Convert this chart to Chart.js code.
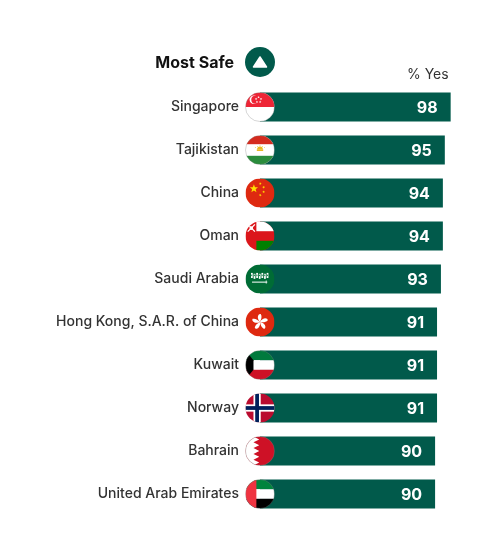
<!DOCTYPE html>
<html><head><meta charset="utf-8">
<script src="https://cdn.jsdelivr.net/npm/chart.js@4.4.1/dist/chart.umd.min.js"></script>
<style>html,body{margin:0;padding:0;background:#fff}#wrap{width:498px;height:536px;position:relative}</style>
</head><body><div id="wrap"><canvas id="c"></canvas></div>
<script>
const countries = ['Singapore','Tajikistan','China','Oman','Saudi Arabia','Hong Kong, S.A.R. of China','Kuwait','Norway','Bahrain','United Arab Emirates'];
const values = [98,95,94,94,93,91,91,91,90,90];
const flagCodes = ['sg','tj','cn','om','sa','hk','kw','no','bh','ae'];
const titleText = 'Most Safe';
const unitText = '% Yes';

const GREEN = '#015a4b';
const FONT = 'Inter, "Noto Sans", sans-serif';

function star(ctx,x,y,R,rot,color){
  ctx.beginPath();
  for(let k=0;k<10;k++){const a=rot-Math.PI/2+k*Math.PI/5;const rr=k%2?R*0.42:R;ctx.lineTo(x+rr*Math.cos(a),y+rr*Math.sin(a));}
  ctx.closePath();ctx.fillStyle=color;ctx.fill();
}
function rect(ctx,x,y,w,h,c){ctx.fillStyle=c;ctx.fillRect(x,y,w,h);}

const flags = {
  sg(ctx,cx,cy,r){
    rect(ctx,cx-r,cy-r,2*r,2*r,'#fff');
    rect(ctx,cx-r,cy-r,2*r,r,'#ee2536');
    ctx.beginPath();ctx.arc(cx-0.42*r,cy-0.5*r,0.3*r,0,Math.PI*2);ctx.fillStyle='#fff';ctx.fill();
    ctx.beginPath();ctx.arc(cx-0.32*r,cy-0.5*r,0.28*r,0,Math.PI*2);ctx.fillStyle='#ee2536';ctx.fill();
    const pts=[[0,-0.72],[0.17,-0.6],[0.11,-0.4],[-0.11,-0.4],[-0.17,-0.6]];
    pts.forEach(p=>star(ctx,cx-0.1*r+p[0]*r,cy+p[1]*r+0.05*r,0.09*r,0,'#fff'));
  },
  tj(ctx,cx,cy,r){
    rect(ctx,cx-r,cy-r,2*r,2*r,'#fff');
    rect(ctx,cx-r,cy-r,2*r,0.6*r,'#d52b1e');
    rect(ctx,cx-r,cy+0.4*r,2*r,0.6*r,'#2a8c3c');
    ctx.fillStyle='#e8b923';
    ctx.fillRect(cx-0.22*r,cy-0.05*r,0.44*r,0.12*r);
    ctx.beginPath();ctx.arc(cx,cy-0.05*r,0.2*r,Math.PI,0);ctx.fill();
    for(let k=-2;k<=2;k++)star(ctx,cx+k*0.16*r,cy-0.3*r+Math.abs(k)*0.06*r,0.05*r,0,'#e8b923');
  },
  cn(ctx,cx,cy,r){
    rect(ctx,cx-r,cy-r,2*r,2*r,'#de2910');
    star(ctx,cx-0.42*r,cy-0.3*r,0.3*r,0,'#ffde00');
    star(ctx,cx+0.02*r,cy-0.65*r,0.1*r,0.3,'#ffde00');
    star(ctx,cx+0.25*r,cy-0.4*r,0.1*r,0.6,'#ffde00');
    star(ctx,cx+0.25*r,cy-0.08*r,0.1*r,0,'#ffde00');
    star(ctx,cx+0.02*r,cy+0.15*r,0.1*r,0.3,'#ffde00');
  },
  om(ctx,cx,cy,r){
    rect(ctx,cx-r,cy-r,2*r,2*r,'#db161b');
    rect(ctx,cx-0.25*r,cy-r,1.25*r,0.67*r,'#fff');
    rect(ctx,cx-0.25*r,cy+0.33*r,1.25*r,0.67*r,'#008000');
    ctx.strokeStyle='#fff';ctx.lineWidth=0.09*r;
    ctx.beginPath();ctx.moveTo(cx-0.85*r,cy-0.8*r);ctx.lineTo(cx-0.35*r,cy-0.3*r);ctx.moveTo(cx-0.35*r,cy-0.8*r);ctx.lineTo(cx-0.85*r,cy-0.3*r);ctx.stroke();
    ctx.beginPath();ctx.arc(cx-0.6*r,cy-0.55*r,0.13*r,0,Math.PI*2);ctx.fillStyle='#fff';ctx.fill();
  },
  sa(ctx,cx,cy,r){
    rect(ctx,cx-r,cy-r,2*r,2*r,'#006c35');
    ctx.fillStyle='#fff';
    for(let k=0;k<7;k++){ctx.fillRect(cx-0.62*r+k*0.18*r,cy-0.42*r+(k%2)*0.06*r,0.12*r,0.35*r);}
    ctx.fillStyle='#006c35';
    for(let k=0;k<7;k++){ctx.fillRect(cx-0.6*r+k*0.18*r,cy-0.3*r,0.06*r,0.1*r);}
    ctx.fillStyle='#fff';
    ctx.fillRect(cx-0.55*r,cy+0.18*r,1.05*r,0.07*r);
    ctx.fillRect(cx+0.4*r,cy+0.1*r,0.05*r,0.22*r);
  },
  hk(ctx,cx,cy,r){
    rect(ctx,cx-r,cy-r,2*r,2*r,'#de2910');
    ctx.fillStyle='#fff';
    for(let k=0;k<5;k++){
      const a=-Math.PI/2+k*2*Math.PI/5;
      ctx.save();ctx.translate(cx,cy);ctx.rotate(a);
      ctx.beginPath();ctx.moveTo(0,0);
      ctx.bezierCurveTo(0.25*r,-0.25*r,0.6*r,-0.15*r,0.55*r,0.05*r);
      ctx.bezierCurveTo(0.4*r,0.15*r,0.2*r,0.1*r,0,0);
      ctx.fill();ctx.restore();
    }
  },
  kw(ctx,cx,cy,r){
    rect(ctx,cx-r,cy-r,2*r,0.67*r,'#007a3d');
    rect(ctx,cx-r,cy-0.33*r,2*r,0.67*r,'#fff');
    rect(ctx,cx-r,cy+0.33*r,2*r,0.67*r,'#ce1126');
    ctx.beginPath();ctx.moveTo(cx-r,cy-r);ctx.lineTo(cx-0.45*r,cy-0.33*r);ctx.lineTo(cx-0.45*r,cy+0.33*r);ctx.lineTo(cx-r,cy+r);ctx.closePath();
    ctx.fillStyle='#000';ctx.fill();
  },
  no(ctx,cx,cy,r){
    rect(ctx,cx-r,cy-r,2*r,2*r,'#ba0c2f');
    rect(ctx,cx-0.45*r,cy-r,0.5*r,2*r,'#fff');
    rect(ctx,cx-r,cy-0.25*r,2*r,0.5*r,'#fff');
    rect(ctx,cx-0.33*r,cy-r,0.26*r,2*r,'#00205b');
    rect(ctx,cx-r,cy-0.13*r,2*r,0.26*r,'#00205b');
  },
  bh(ctx,cx,cy,r){
    rect(ctx,cx-r,cy-r,2*r,2*r,'#ce1126');
    ctx.beginPath();ctx.moveTo(cx-r,cy-r);
    const n=5,h=2*r/n;
    for(let k=0;k<n;k++){ctx.lineTo(cx-0.45*r,cy-r+k*h);ctx.lineTo(cx-0.05*r,cy-r+k*h+h/2);}
    ctx.lineTo(cx-0.45*r,cy+r);ctx.lineTo(cx-r,cy+r);ctx.closePath();
    ctx.fillStyle='#fff';ctx.fill();
  },
  ae(ctx,cx,cy,r){
    rect(ctx,cx-r,cy-r,2*r,0.67*r,'#00843d');
    rect(ctx,cx-r,cy-0.33*r,2*r,0.67*r,'#fff');
    rect(ctx,cx-r,cy+0.33*r,2*r,0.67*r,'#000');
    rect(ctx,cx-r,cy-r,0.75*r,2*r,'#ef3340');
  }
};
const whiteEdge = {sg:1,tj:1,bh:1,ae:1,kw:1};

const decorPlugin = {
  id:'decor',
  afterDatasetsDraw(chart){
    const ctx=chart.ctx;
    const meta=chart.getDatasetMeta(0);
    const xs=chart.scales.x, ys=chart.scales.y;
    const r=14.5;
    meta.data.forEach((bar,i)=>{
      const cx=xs.getPixelForValue(0), cy=ys.getPixelForValue(i);
      ctx.save();
      ctx.beginPath();ctx.arc(cx,cy,r,0,Math.PI*2);ctx.clip();
      flags[flagCodes[i]](ctx,cx,cy,r);
      ctx.restore();
      if(whiteEdge[flagCodes[i]]){
        ctx.save();
        ctx.beginPath();ctx.arc(cx,cy,r,0,Math.PI*2);ctx.strokeStyle='rgba(130,130,130,0.55)';ctx.lineWidth=0.6;ctx.stroke();
        ctx.restore();
      }
      ctx.save();
      ctx.fillStyle='#fff';ctx.font='700 16px '+FONT;ctx.textAlign='right';ctx.textBaseline='middle';
      ctx.fillText(String(values[i]),bar.x-13,bar.y+1);
      ctx.restore();
    });
  },
  afterDraw(chart){
    const ctx=chart.ctx;
    const xs=chart.scales.x;
    const cx=xs.getPixelForValue(0);
    ctx.save();
    ctx.fillStyle='#111';ctx.font='700 16px '+FONT;ctx.textAlign='right';ctx.textBaseline='alphabetic';
    ctx.fillText(titleText,cx-26,68);
    ctx.beginPath();ctx.arc(cx,62,15,0,Math.PI*2);ctx.fillStyle=GREEN;ctx.fill();
    ctx.beginPath();ctx.moveTo(cx,57);ctx.lineTo(cx+6.5,67);ctx.lineTo(cx-6.5,67);ctx.closePath();
    ctx.fillStyle='#fff';ctx.lineJoin='round';ctx.strokeStyle='#fff';ctx.lineWidth=1.5;ctx.fill();ctx.stroke();
    ctx.fillStyle='#333';ctx.font='400 14px '+FONT;ctx.textAlign='right';ctx.textBaseline='middle';
    ctx.fillText(unitText,xs.getPixelForValue(98)-2,75);
    ctx.restore();
  }
};

new Chart(document.getElementById('c'),{
  type:'bar',
  data:{labels:countries,datasets:[{data:values,backgroundColor:GREEN,borderWidth:0,barPercentage:0.68,categoryPercentage:1}]},
  options:{
    indexAxis:'y',responsive:true,maintainAspectRatio:false,animation:false,
    layout:{padding:{left:0,top:85.5,right:24,bottom:20.5}},
    plugins:{legend:{display:false},tooltip:{enabled:false}},
    scales:{
      x:{display:false,min:0,max:110},
      y:{
        grid:{display:false,drawTicks:false,tickLength:0},border:{display:false},
        ticks:{color:'#333',padding:21,font:{family:FONT,size:14,weight:'500'}},
        afterFit(s){s.width=260;s.paddingTop=0;s.paddingBottom=0;}
      }
    }
  },
  plugins:[decorPlugin]
});
</script></body></html>
